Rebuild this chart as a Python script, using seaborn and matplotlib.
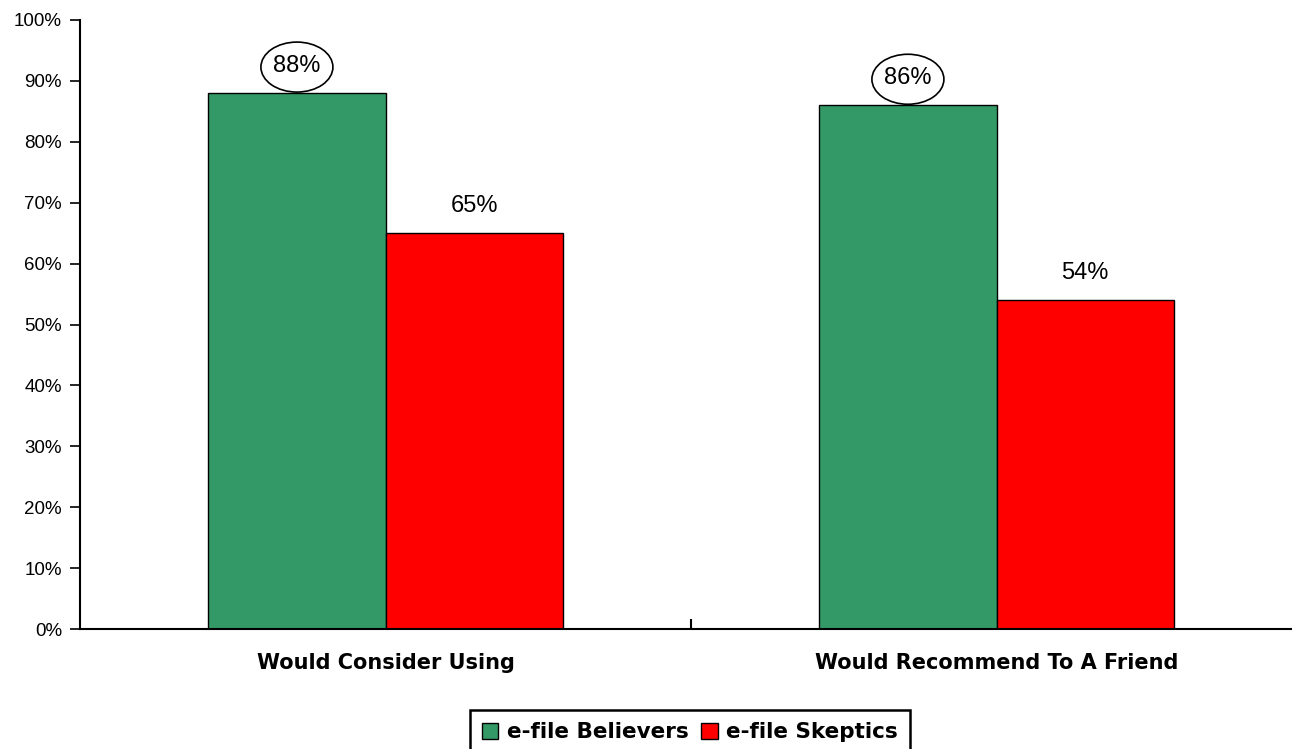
import matplotlib
matplotlib.use("Agg")
import matplotlib.pyplot as plt
import matplotlib.transforms as mtransforms
from matplotlib.patches import Ellipse
import seaborn as sns
import pandas as pd

categories = ["Would Consider Using", "Would Recommend To A Friend"]
groups = ["e-file Believers", "e-file Skeptics"]
believers = [88, 86]
skeptics = [65, 54]
yticks = [0, 10, 20, 30, 40, 50, 60, 70, 80, 90, 100]

df = pd.DataFrame({
    "category": categories * 2,
    "group": [groups[0]] * len(categories) + [groups[1]] * len(categories),
    "value": believers + skeptics,
})

sns.set_theme(style="white")
plt.rcParams["font.family"] = ["Liberation Sans", "DejaVu Sans"]
plt.rcParams["text.color"] = "black"
plt.rcParams["xtick.color"] = "black"
plt.rcParams["ytick.color"] = "black"

fig = plt.figure(figsize=(12.92, 7.49), dpi=100)
ax = fig.add_axes([80 / 1292, 120 / 749, 1222 / 1292, 609 / 749])

palette = {groups[0]: "#339966", groups[1]: "#FF0000"}
sns.barplot(data=df, x="category", y="value", hue="group", order=categories,
            hue_order=groups, palette=palette, width=0.58, saturation=1,
            edgecolor="black", linewidth=1.0, ax=ax, legend=True)

ax.set_xlim(-0.5, 1.5)
ax.set_ylim(0, 100)
ax.set_yticks(yticks)
ax.set_yticklabels([f"{t}%" for t in yticks], fontsize=13.5, color="black")
ax.set_xlabel("")
ax.set_ylabel("")
ax.set_xticks([0, 1])
ax.set_xticklabels(categories, fontsize=15, fontweight="bold",
                   family="DejaVu Sans", color="black")
ax.tick_params(axis="x", length=0, pad=17)
ax.tick_params(axis="y", direction="out", length=7, width=1.2, left=True,
               color="black", pad=6, labelcolor="black")
# boundary tick between the two categories
ax.set_xticks([0.5], minor=True)
ax.tick_params(axis="x", which="minor", direction="in", length=7, width=1.5,
               bottom=True, color="black")

for side in ("top", "right"):
    ax.spines[side].set_visible(False)
for side in ("left", "bottom"):
    ax.spines[side].set_color("black")
    ax.spines[side].set_linewidth(1.5)

# value labels; believers' values get an ellipse around them
n = len(categories)
for i, patch in enumerate(ax.patches[: 2 * n]):
    h = patch.get_height()
    cx = patch.get_x() + patch.get_width() / 2
    ax.annotate(f"{h:.0f}%", (cx, h), xytext=(0, 19.5), textcoords="offset points",
                ha="center", va="center", fontsize=17, color="black")
    if i < n:
        tr = fig.dpi_scale_trans + mtransforms.ScaledTranslation(cx, h, ax.transData)
        ax.add_patch(Ellipse((0, 0.26), 0.72, 0.50, transform=tr, fill=False,
                             edgecolor="black", linewidth=1.2, clip_on=False))

handles, labels = ax.get_legend_handles_labels()
ax.get_legend().remove()
leg = fig.legend(handles, labels, loc="upper center",
                 bbox_to_anchor=(690 / 1292, 1 - 704 / 749), ncol=2,
                 frameon=True, fancybox=False, framealpha=1,
                 handlelength=0.75, handleheight=0.75, handletextpad=0.4,
                 columnspacing=0.6, borderpad=0.55, borderaxespad=0.3,
                 prop={"family": "DejaVu Sans", "weight": "bold", "size": 15.5})
leg.get_frame().set_edgecolor("black")
leg.get_frame().set_linewidth(1.8)
for t in leg.get_texts():
    t.set_color("black")

fig.savefig("out.png", dpi=100)
